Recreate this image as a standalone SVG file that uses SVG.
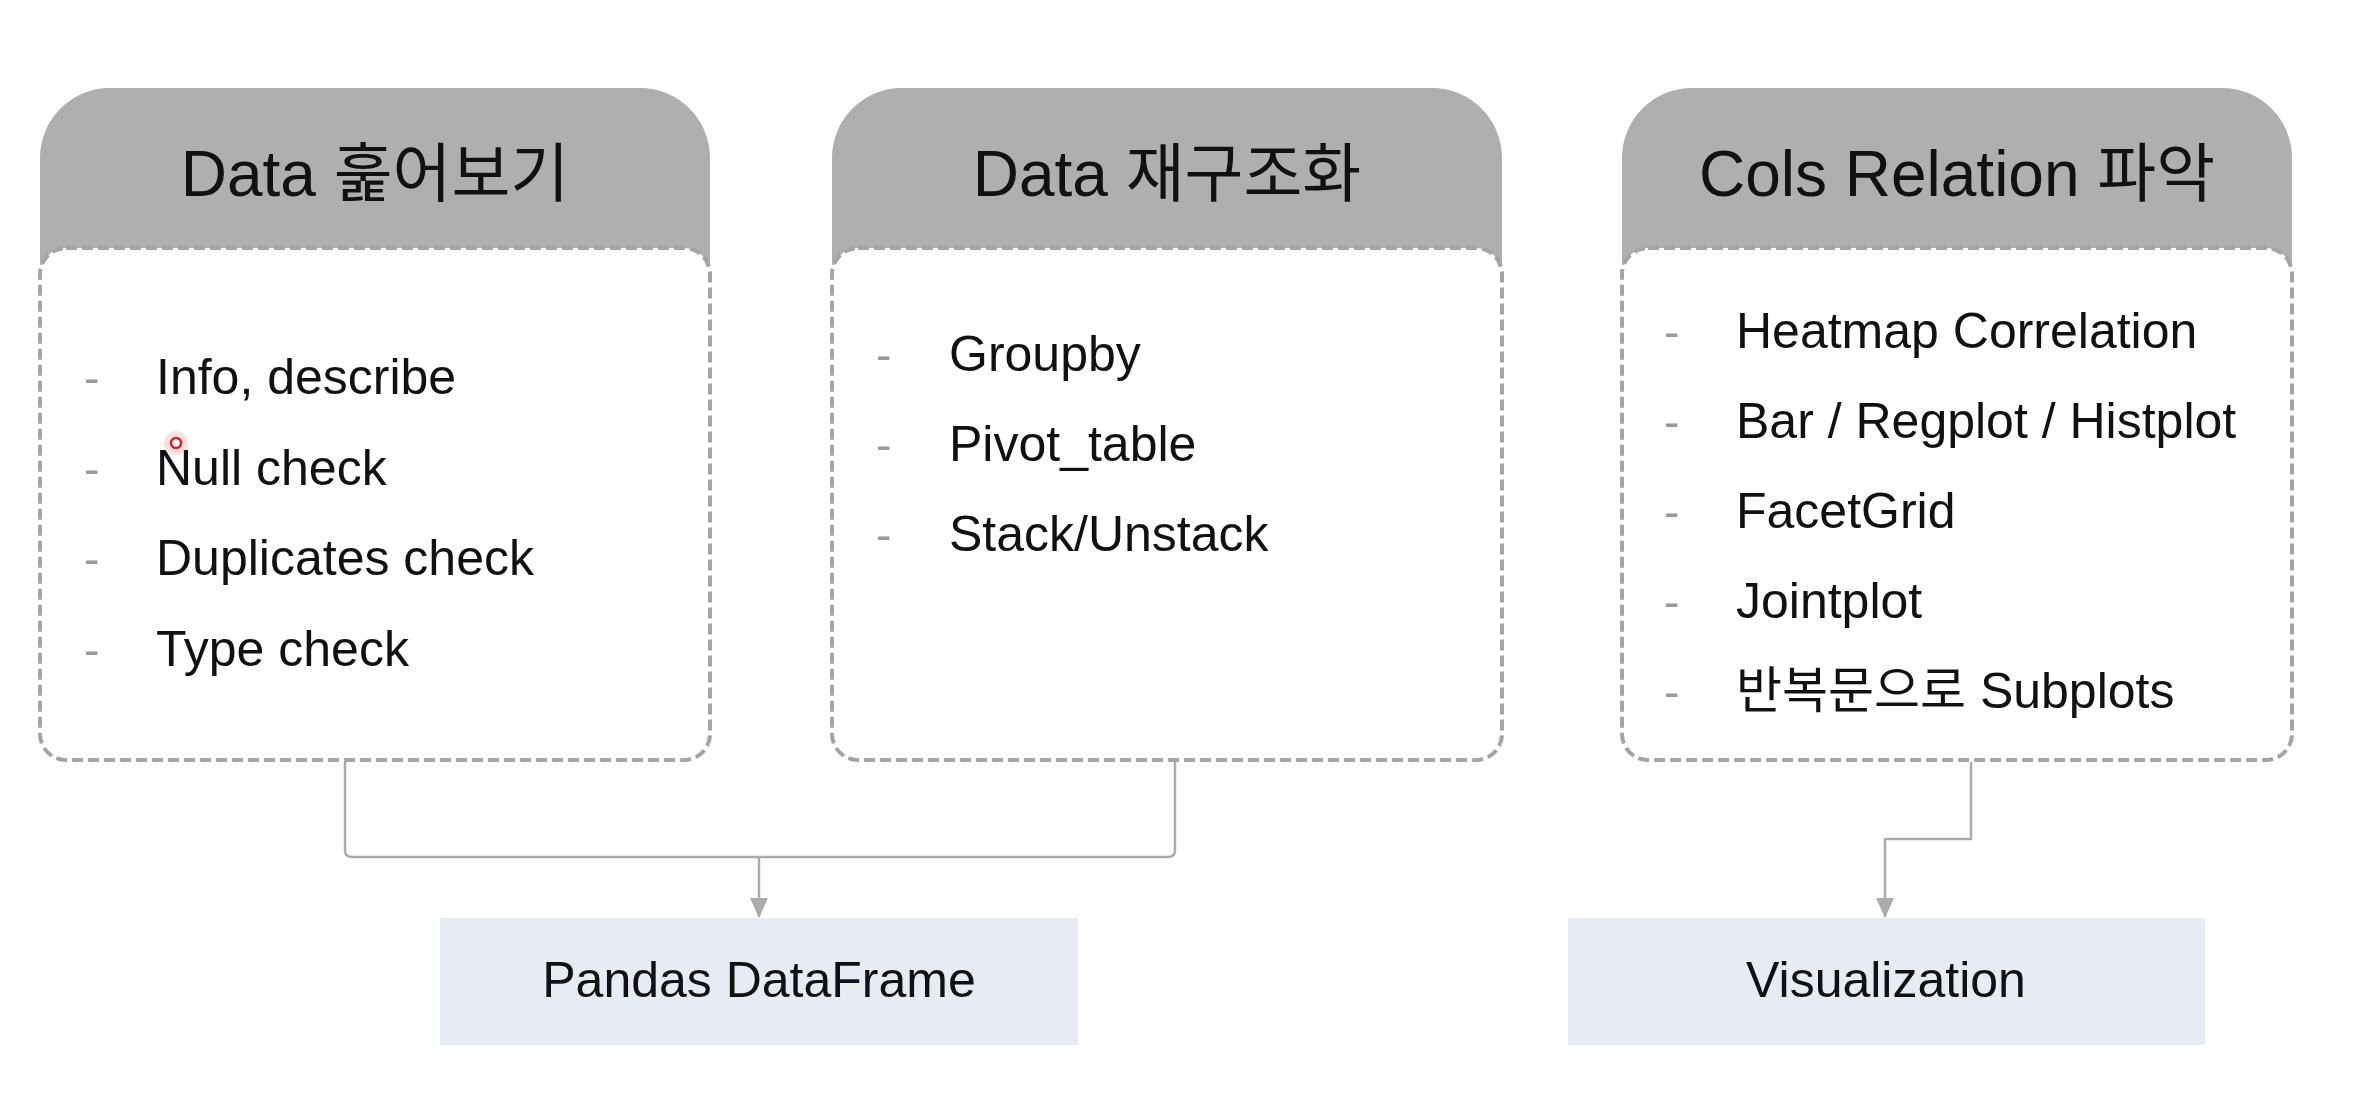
<svg xmlns="http://www.w3.org/2000/svg" width="2360" height="1112" viewBox="0 0 2360 1112">
  <style>
    .hdr { fill: #afafaf; }
    .body { fill: #ffffff; stroke: #a4a4a4; stroke-width: 4; stroke-dasharray: 11 5; }
    .title { font-family: "Liberation Sans", "Noto Sans CJK KR", sans-serif; font-size: 64px; fill: #111; text-anchor: middle; }
    .item { font-family: "Liberation Sans", "Noto Sans CJK KR", sans-serif; font-size: 50px; fill: #111; }
    .dash { font-family: "Liberation Sans", sans-serif; font-size: 46px; fill: #999999; }
    .out { fill: #e7ebf3; }
    .outtext { font-family: "Liberation Sans", sans-serif; font-size: 50px; fill: #111; text-anchor: middle; }
    .conn { fill: none; stroke: #ababab; stroke-width: 2.5; }
  </style>
  <defs>
    <marker id="arrow" markerUnits="userSpaceOnUse" markerWidth="20" markerHeight="18" viewBox="0 0 20 18" refX="19" refY="9" orient="auto">
      <path d="M0,0 L20,9 L0,18 Z" fill="#ababab"/>
    </marker>
    <path id="hdrShape" d="M0,265 V158 A70,70 0 0 1 70,88 H600 A70,70 0 0 1 670,158 V265 Z"/>
  </defs>
  <rect width="2360" height="1112" fill="#ffffff"/>

  <g id="box-overview" transform="translate(40,0)">
    <use href="#hdrShape" class="hdr"/>
    <rect class="body" x="0" y="248" width="670" height="512" rx="26"/>
    <text class="title" x="335" y="196">Data 훑어보기</text>
    <text class="dash" x="44" y="394">-</text><text class="item" x="116" y="394">Info, describe</text>
    <text class="dash" x="44" y="485">-</text><text class="item" x="116" y="485">Null check</text>
    <text class="dash" x="44" y="575">-</text><text class="item" x="116" y="575">Duplicates check</text>
    <text class="dash" x="44" y="666">-</text><text class="item" x="116" y="666">Type check</text>
  </g>

  <g id="box-restructure" transform="translate(832,0)">
    <use href="#hdrShape" class="hdr"/>
    <rect class="body" x="0" y="248" width="670" height="512" rx="26"/>
    <text class="title" x="335" y="196">Data 재구조화</text>
    <text class="dash" x="44" y="371">-</text><text class="item" x="117" y="371">Groupby</text>
    <text class="dash" x="44" y="461">-</text><text class="item" x="117" y="461">Pivot_table</text>
    <text class="dash" x="44" y="551">-</text><text class="item" x="117" y="551">Stack/Unstack</text>
  </g>

  <g id="box-relation" transform="translate(1622,0)">
    <use href="#hdrShape" class="hdr"/>
    <rect class="body" x="0" y="248" width="670" height="512" rx="26"/>
    <text class="title" x="335" y="196">Cols Relation 파악</text>
    <text class="dash" x="42" y="348">-</text><text class="item" x="114" y="348">Heatmap Correlation</text>
    <text class="dash" x="42" y="438">-</text><text class="item" x="114" y="438">Bar / Regplot / Histplot</text>
    <text class="dash" x="42" y="528">-</text><text class="item" x="114" y="528">FacetGrid</text>
    <text class="dash" x="42" y="618">-</text><text class="item" x="114" y="618">Jointplot</text>
    <text class="dash" x="42" y="708">-</text><text class="item" x="114" y="708">반복문으로 Subplots</text>
  </g>

  <g id="pandas-dataframe">
    <rect class="out" x="440" y="918" width="638" height="127"/>
    <text class="outtext" x="759" y="997">Pandas DataFrame</text>
  </g>

  <g id="visualization">
    <rect class="out" x="1568" y="918" width="637" height="127"/>
    <text class="outtext" x="1886" y="997">Visualization</text>
  </g>

  <g id="connectors">
    <path class="conn" d="M345,762 V850 Q345,857 352,857 H1168 Q1175,857 1175,850 V762"/>
    <path class="conn" d="M759,857 V917" marker-end="url(#arrow)"/>
    <path class="conn" d="M1971,762 V839 H1885 V917" marker-end="url(#arrow)"/>
  </g>

  <g id="cursor">
    <circle cx="176" cy="443" r="12" fill="#ff3030" fill-opacity="0.15"/>
    <circle cx="176" cy="443" r="5" fill="#ffffff" stroke="#d42020" stroke-width="2.5"/>
  </g>
</svg>
